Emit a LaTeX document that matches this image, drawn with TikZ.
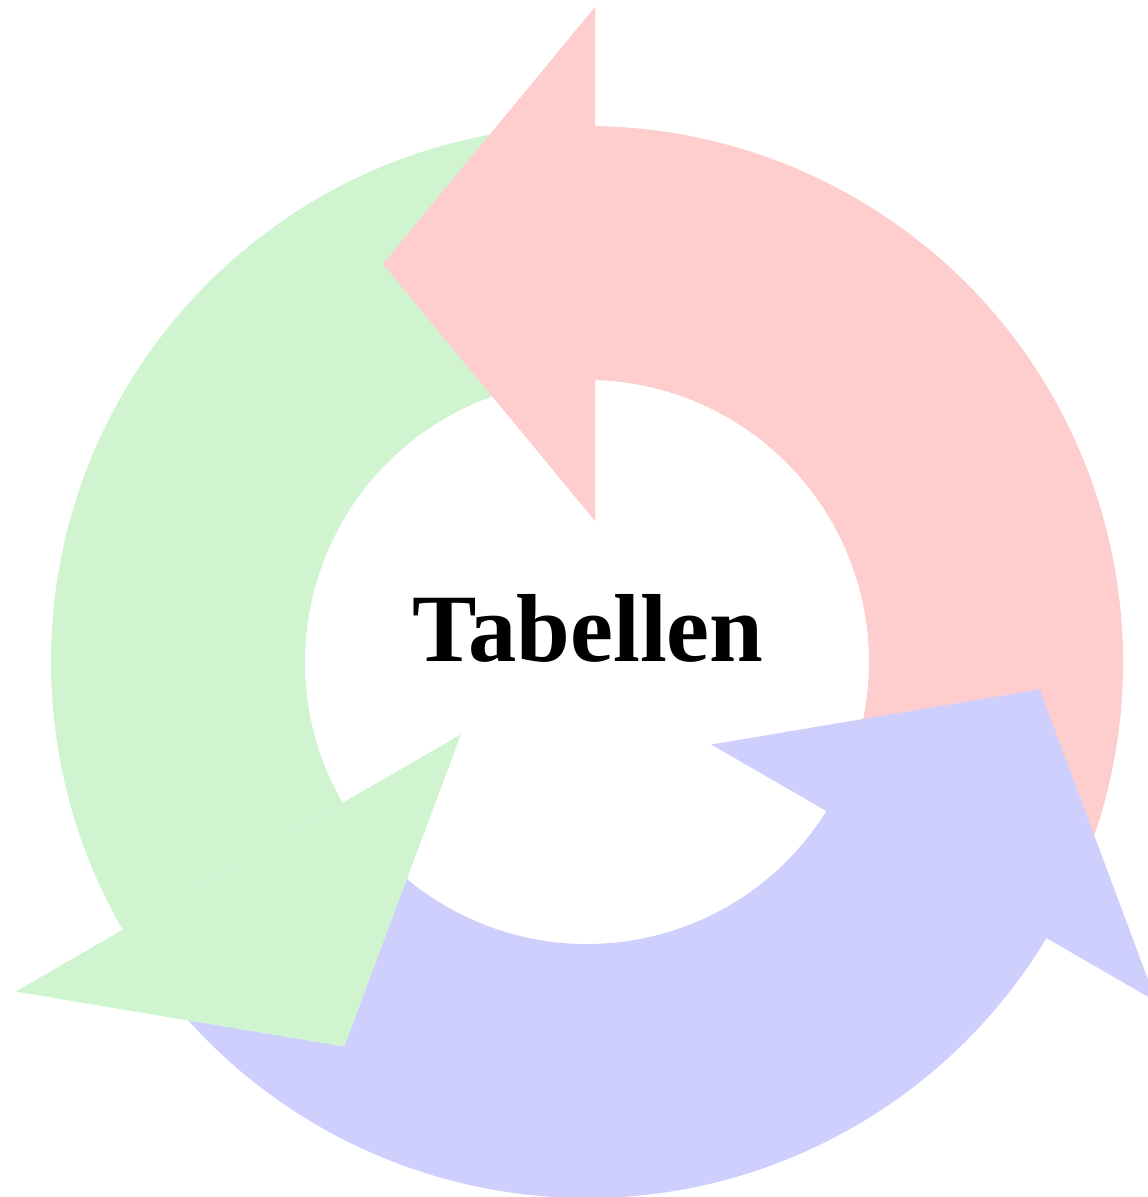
\documentclass[tikz,border=0pt]{standalone}
\usepackage{fontspec}
\setmainfont{Liberation Serif}
\usepackage{tikz}
\usetikzlibrary{calc}
\usepackage{xcolor}
\definecolor{redarrow}{HTML}{FECECE}
\definecolor{greenarrow}{HTML}{D0F4D0}
\definecolor{bluearrow}{HTML}{CFCFFE}

\begin{document}
\begin{tikzpicture}[x=1cm, y=1cm]
    \useasboundingbox (0,0) rectangle (11.48,11.97);
    \coordinate (O) at (5.87,5.35);

    % Ring segments, one for each arrow
    \foreach \ang/\col in {90/redarrow, 210/greenarrow, 330/bluearrow}
        \fill[color=\col] ($(O)+(\ang-120:5.36)$) arc[start angle=\ang-120, end angle=\ang, radius=5.36]
            -- ($(O)+(\ang:2.82)$) arc[start angle=\ang, end angle=\ang-120, radius=2.82] -- cycle;

    % Arrow heads on top
    \foreach \ang/\col/\dx/\dy in {90/redarrow/0.08/0, 210/greenarrow/-0.04/-0.02, 330/bluearrow/0.02/-0.12} {
        \coordinate (H) at ($(O)+(\dx,\dy)$);
        \fill[color=\col] ($(H)+(\ang:1.41)$) -- ($(H)+(\ang:6.55)$)
            -- ($(H)+(\ang:3.98)+(\ang+90:2.12)$) -- cycle;
    }

    \node[anchor=base, inner sep=0pt, font=\fontsize{27.5}{30}\selectfont\bfseries] (title) at (5.88,5.35) {Tabellen};
\end{tikzpicture}
\end{document}
